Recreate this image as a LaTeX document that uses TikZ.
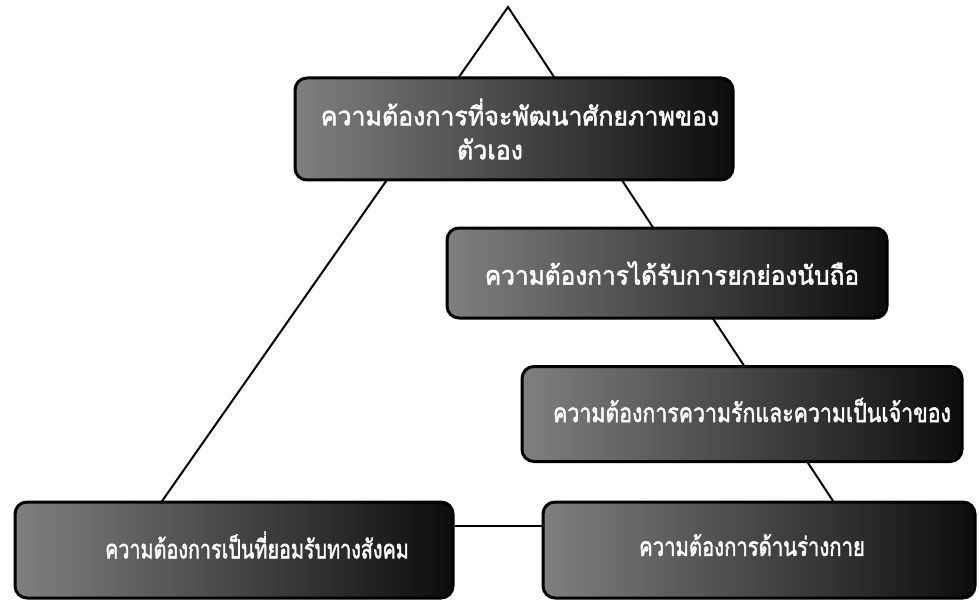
\documentclass[tikz,border=0pt]{standalone}
\usepackage{fontspec}
\usepackage{graphicx}
\newfontfamily\thaifont[Script=Thai, FakeBold=2]{Loma}
\newcommand{\sx}[2]{\scalebox{#1}[1]{#2}}
\begin{document}
\begin{tikzpicture}[x=1pt,y=-1pt,
  box/.style={rounded corners=12pt, draw=black, line width=3pt,
    left color=black!50, right color=black!95,
    text=white, font=\thaifont\fontsize{26}{34}\selectfont,
    inner sep=0pt, align=center},
  side/.style={draw=black, line width=2pt}]
\useasboundingbox (0,0) rectangle (979,604);
\coordinate (apex) at (508,7);
\coordinate (lft) at (160,504);
\coordinate (rgt) at (835,504);
\draw[side] (lft) -- (apex) -- (rgt);
\node[box, minimum width=438pt, minimum height=102pt] (top) at (514,129)
  {\hspace*{12pt}\sx{0.96}{ความต้องการที่จะพัฒนาศักยภาพของ}\\\hspace*{-48pt}\sx{0.96}{ตัวเอง}};
\node[box, minimum width=440pt, minimum height=90pt] (esteem) at (667,273)
  {\hspace*{10pt}\sx{0.94}{ความต้องการได้รับการยกย่องนับถือ}};
\node[box, minimum width=440pt, minimum height=95pt] (love) at (742,414)
  {\hspace*{20pt}\raisebox{8pt}{\sx{0.82}{ความต้องการความรักและความเป็นเจ้าของ}}};
\node[box, minimum width=438pt, minimum height=96pt] (social) at (234,550)
  {\hspace*{46pt}\raisebox{10pt}{\sx{0.76}{ความต้องการเป็นที่ยอมรับทางสังคม}}};
\node[box, minimum width=432pt, minimum height=96pt] (body) at (759,550)
  {\hspace*{-14pt}\raisebox{10pt}{\sx{0.78}{ความต้องการด้านร่างกาย}}};
\draw[side] ([yshift=24pt]social.east) -- ([yshift=24pt]body.west);
\end{tikzpicture}
\end{document}
